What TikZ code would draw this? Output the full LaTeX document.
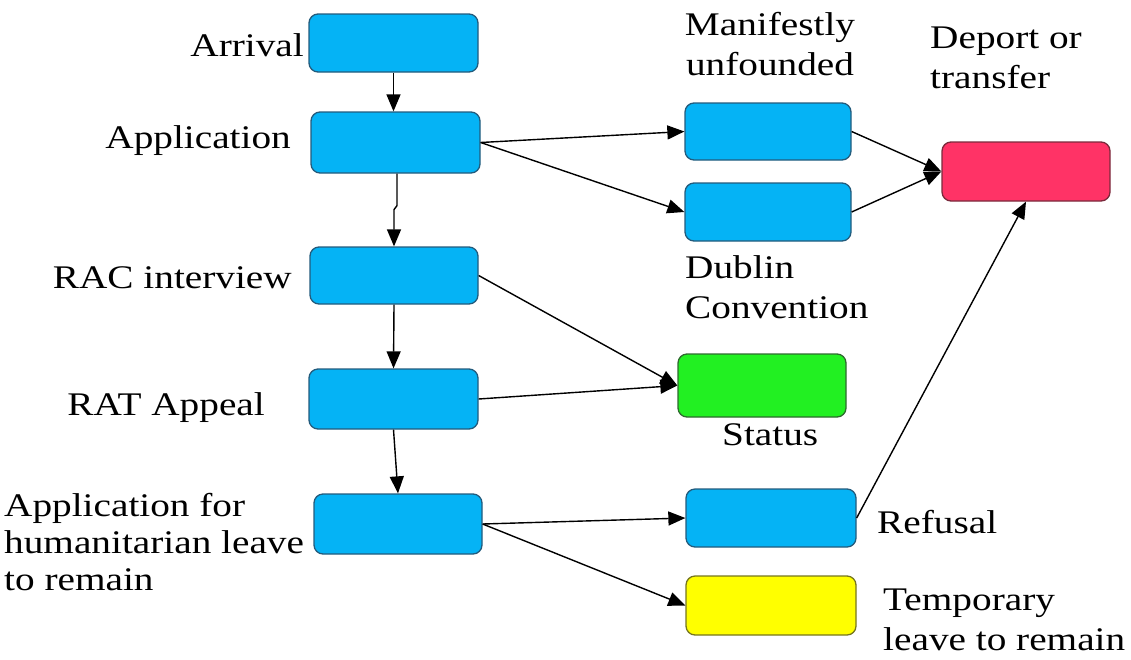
\documentclass[tikz,border=0pt]{standalone}
\usepackage{fontspec}
\setmainfont{Liberation Serif}[FakeStretch=1.19]
\usetikzlibrary{arrows.meta}
\definecolor{bluefill}{HTML}{05B3F5}
\definecolor{blueline}{HTML}{235B7C}
\definecolor{greenfill}{HTML}{22F022}
\definecolor{greenline}{HTML}{2E6A2E}
\definecolor{redfill}{HTML}{FF3366}
\definecolor{redline}{HTML}{7A2A3C}
\definecolor{yellowfill}{HTML}{FFFF00}
\definecolor{yellowline}{HTML}{76761E}
\tikzset{
  box/.style={draw, rounded corners=9pt, line width=1.3pt, inner sep=0pt},
  bluebox/.style={box, fill=bluefill, draw=blueline},
  greenbox/.style={box, fill=greenfill, draw=greenline},
  redbox/.style={box, fill=redfill, draw=redline},
  yellowbox/.style={box, fill=yellowfill, draw=yellowline},
  lbl/.style={inner sep=0pt, font=\fontsize{33}{40}\selectfont},
  lblleft/.style={inner sep=0pt, font=\fontsize{33}{37}\selectfont},
  conn/.style={line width=1.4pt, -{Triangle[length=17pt,width=14pt]}}
}
\begin{document}
\begin{tikzpicture}[x=1pt,y=-1pt]
\useasboundingbox (0,0) rectangle (1131,659);
% boxes
\node[bluebox, minimum width=169pt, minimum height=58pt] (arr) at (393.5,43) {};
\node[bluebox, minimum width=169pt, minimum height=61pt] (app) at (395.5,142.5) {};
\node[bluebox, minimum width=168pt, minimum height=57pt] (rac) at (394,275.5) {};
\node[bluebox, minimum width=169pt, minimum height=60pt] (rat) at (393.5,399) {};
\node[bluebox, minimum width=168pt, minimum height=60pt] (hum) at (398,524) {};
\node[bluebox, minimum width=166pt, minimum height=57pt] (man) at (768,131.5) {};
\node[bluebox, minimum width=166pt, minimum height=58pt] (dub) at (768,212) {};
\node[greenbox, minimum width=168pt, minimum height=63pt] (sta) at (762,385.5) {};
\node[bluebox, minimum width=170pt, minimum height=58pt] (ref) at (771,518) {};
\node[yellowbox, minimum width=170pt, minimum height=59pt] (tmp) at (771,605.5) {};
\node[redbox, minimum width=168pt, minimum height=59pt] (dep) at (1026,171.5) {};
% labels (multi-line: base = last line's baseline)
\node[lbl, anchor=base east] (tarr) at (304,56) {Arrival};
\node[lbl, anchor=base east] (tapp) at (291,148) {Application};
\node[lbl, anchor=base east] (trac) at (292,288) {RAC interview};
\node[lbl, anchor=base east] (trat) at (265,415) {RAT Appeal};
\node[lblleft, anchor=base west, align=left] (thum) at (4,590) {Application for\\humanitarian leave\\to remain};
\node[lbl, anchor=base, align=center] (tman) at (770,75) {Manifestly\\unfounded};
\node[lbl, anchor=base west, align=left] (tdep) at (930,88) {Deport or\\transfer};
\node[lbl, anchor=base west, align=left] (tdub) at (685,318) {Dublin\\Convention};
\node[lbl, anchor=base west] (tsta) at (722,445) {Status};
\node[lbl, anchor=base west] (tref) at (877,533) {Refusal};
\node[lbl, anchor=base west, align=left] (ttmp) at (883,650) {Temporary\\leave to remain};
% connectors
\draw[conn] (arr.south) -- (arr.south |- app.north);
\draw[conn] ([xshift=1.5pt]app.south) -- ++(0,32) -- ++(-3,4) -- (rac.north);
\draw[conn] (rac.south) -- (rat.north);
\draw[conn] (rat.south) -- (hum.north);
\draw[conn] (app.east) -- (man.west);
\draw[conn] (app.east) -- (dub.west);
\draw[conn] (man.east) -- (dep.west);
\draw[conn] (dub.east) -- (dep.west);
\draw[conn] (ref.east) -- (dep.south);
\draw[conn] (rac.east) -- (sta.west);
\draw[conn] (rat.east) -- (sta.west);
\draw[conn] (hum.east) -- (ref.west);
\draw[conn] (hum.east) -- (tmp.west);
\end{tikzpicture}
\end{document}
